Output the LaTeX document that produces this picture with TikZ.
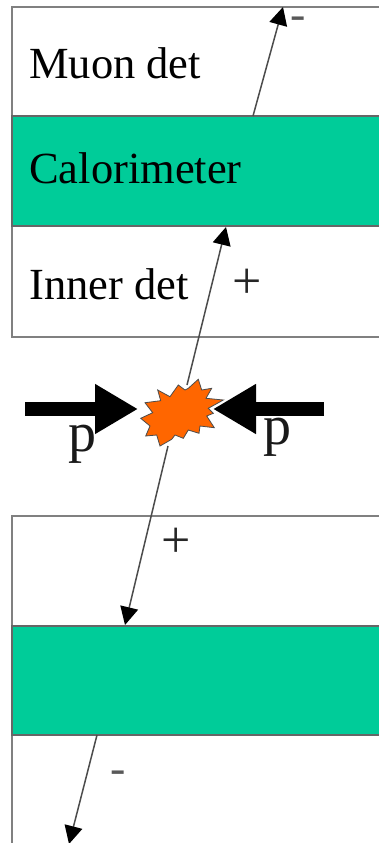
\documentclass[tikz,border=0pt]{standalone}
\usepackage{fontspec}
\setmainfont{Liberation Serif}
\usetikzlibrary{arrows.meta}
\definecolor{calo}{HTML}{00CC99}
\definecolor{burst}{HTML}{FF6600}
\tikzset{
  x=1pt,y=-1pt,
  frame/.style={draw=black!50,line width=1.5pt},
  calobox/.style={draw=black!60,line width=1.5pt,fill=calo},
  track/.style={draw=black!70,line width=1.5pt,-{Triangle[length=18pt,width=18pt,color=black]}},
  beam/.style={draw=black,line width=14pt,-{Triangle[length=43pt,width=47pt]}},
  lbl/.style={font=\fontsize{44.5}{44.5}\selectfont,anchor=base west,inner sep=0pt,text=black},
  plbl/.style={font=\fontsize{56}{56}\selectfont,anchor=base west,inner sep=0pt,text=black!90},
  sign/.style={font=\fontsize{52}{52}\selectfont,inner sep=0pt,text=black!85},
  dash sign/.style={font=\fontsize{46}{46}\selectfont,inner sep=0pt,text=black!65}
}
\begin{document}
\begin{tikzpicture}
\useasboundingbox (0,0) rectangle (378,843);
% upper detector
\draw[frame] (379,7) -- (12,7) -- (12,337) -- (379,337);
\draw[calobox] (379,116) -- (12,116) -- (12,226) -- (379,226);
% lower detector
\draw[frame] (379,516) -- (12,516) -- (12,844);
\draw[calobox] (379,626) -- (12,626) -- (12,735) -- (379,735);
% labels
\node[lbl] (muon) at (29,78) {Muon det};
\node[lbl] (calo) at (29,183) {Calorimeter};
\node[lbl] (inner) at (29,299) {Inner det};
% track anchors
\coordinate (burstTop) at (187,385);
\coordinate (burstBot) at (168,446);
\coordinate (caloTopIn) at (226,227);
\coordinate (muonStart) at (253,116);
\coordinate (muonEnd) at (283,7);
\coordinate (lowerCalo) at (125,625);
\coordinate (lowerStart) at (97,735);
\coordinate (lowerEnd) at (69,844);
\draw[track] (burstTop) -- (caloTopIn);
\draw[track] (muonStart) -- (muonEnd);
\draw[track] (burstBot) -- (lowerCalo);
\draw[track] (lowerStart) -- (lowerEnd);
% beams
\coordinate (beamL) at (25,409);
\coordinate (beamLtip) at (138,409);
\coordinate (beamR) at (324,409);
\coordinate (beamRtip) at (213,409);
\draw[beam] (beamL) -- (beamLtip);
\draw[beam] (beamR) -- (beamRtip);
% burst
\draw[draw=black!70,line width=0.8pt,fill=burst,line join=miter]
 (198.3,379.3) -- (201.7,390) -- (211.7,388.3) -- (206,398.3) -- (223.3,400) -- (208.3,408.3)
 -- (213.3,413.3) -- (206.7,416) -- (214.3,427.7) -- (200,426) -- (199,433.3) -- (188.3,430)
 -- (183.3,438.3) -- (175,435) -- (171.7,439.3) -- (160,446) -- (156.7,435) -- (145.7,436)
 -- (150,426) -- (140.7,418.3) -- (152.7,412.7) -- (145,402.7) -- (160.7,400.7) -- (157.7,390)
 -- (170,396.7) -- (178.3,385) -- (185,390) -- (188.3,388.3) -- cycle;
% beam labels
\node[plbl] (pL) at (68,451) {p};
\node[plbl] (pR) at (263,444) {p};
% charges
\node[sign] (plusA) at (247,284) {+};
\node[sign] (plusB) at (176,543) {+};
\node[dash sign] (minusA) at (298,23) {-};
\node[dash sign] (minusB) at (118,777) {-};
\end{tikzpicture}
\end{document}
